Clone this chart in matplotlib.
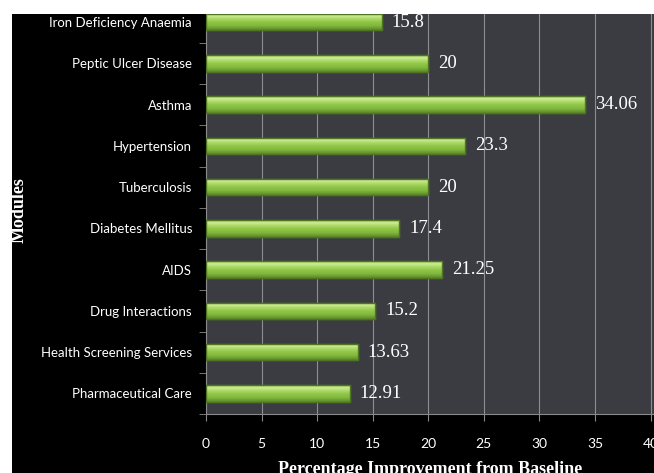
import numpy as np
import matplotlib
matplotlib.use("Agg")
from matplotlib import pyplot as plt
from matplotlib.patches import Rectangle

modules = ["Pharmaceutical Care", "Health Screening Services", "Drug Interactions",
           "AIDS", "Diabetes Mellitus", "Tuberculosis", "Hypertension",
           "Asthma", "Peptic Ulcer Disease", "Iron Deficiency Anaemia"]
improvement = [12.91, 13.63, 15.2, 21.25, 17.4, 20, 23.3, 34.06, 20, 15.8]
value_labels = ["12.91", "13.63", "15.2", "21.25", "17.4", "20", "23.3", "34.06", "20", "15.8"]
xticks = [0, 5, 10, 15, 20, 25, 30, 35, 40]

W, H = 654, 473
fig = plt.figure(figsize=(W / 100, H / 100), dpi=100)
fig.patch.set_facecolor("black")
# white border of the screenshot (top and left)
fig.patches.append(Rectangle((0, 1 - 14 / H), 1, 14 / H, transform=fig.transFigure,
                             facecolor="white", edgecolor="none", zorder=-1))
fig.patches.append(Rectangle((0, 0), 12 / W, 1, transform=fig.transFigure,
                             facecolor="white", edgecolor="none", zorder=-1))

left, right, bottom, top = 206, 654, 414, 14
ax = fig.add_axes([left / W, 1 - bottom / H, (right - left) / W, (bottom - top) / H])
ax.set_facecolor("#3a3c41")

y = np.arange(len(modules))
bh = 0.4
bars = ax.barh(y, improvement, height=bh, color="#8cc44a", edgecolor="#4a6e22",
               linewidth=1.0, zorder=3)

# gradient shading on each bar (bottom -> top)
grad = np.linspace(0, 1, 50)[:, None]
cmap = matplotlib.colors.LinearSegmentedColormap.from_list(
    "g", [(0.0, "#5d8a27"), (0.25, "#80b83d"), (0.5, "#92c94a"),
          (0.72, "#b4de72"), (0.85, "#cdeb94"), (1.0, "#a5d25c")])
for b in bars:
    x0, y0 = b.get_x(), b.get_y()
    w, h = b.get_width(), b.get_height()
    im = ax.imshow(grad, cmap=cmap, aspect="auto", extent=(x0, x0 + w, y0, y0 + h),
                   origin="lower", zorder=3.5, vmin=0, vmax=1, interpolation="bilinear")
    im.set_clip_path(b)
    ax.add_patch(Rectangle((x0, y0), w, h, facecolor="none", edgecolor="#4f7424",
                           linewidth=1.0, zorder=4))

for yi, v, lab in zip(y, improvement, value_labels):
    ax.text(v + 0.9, yi, lab, color="white", va="center", ha="left",
            family="Liberation Serif", fontsize=13.5, zorder=5)

ax.set_xlim(0, 40.3)
ax.set_ylim(-0.5, len(modules) - 1 + 0.2)
ax.set_xticks(xticks)
ax.set_xticklabels([str(t) for t in xticks], color="white", family="Lato", fontsize=10)
ax.set_yticks(y)
ax.set_yticklabels(modules, color="white", family="Lato", fontsize=9.5)
ax.tick_params(axis="y", length=0, pad=10)
ax.tick_params(axis="x", length=5, color="#8a8a8a", pad=12)
ax.set_yticks(np.arange(-0.5, len(modules) - 0.5, 1), minor=True)
ax.tick_params(axis="y", which="minor", length=5, color="#8a8a8a")
ax.grid(axis="x", color="#8c8e92", linewidth=0.8, zorder=1)

for s in ["top", "right"]:
    ax.spines[s].set_visible(False)
ax.spines["left"].set_color("#8a8a8a")
ax.spines["bottom"].set_color("#8a8a8a")

fig.text(430 / W, 1 - 474 / H, "Percentage Improvement from Baseline", color="white",
         family="Liberation Serif", weight="bold", fontsize=13, ha="center", va="baseline")
fig.text(19 / W, 1 - 210 / H, "Modules", color="white", family="Liberation Serif",
         weight="bold", fontsize=13, rotation=90, ha="center", va="center")

fig.savefig("out.png", dpi=100, facecolor=fig.get_facecolor())
